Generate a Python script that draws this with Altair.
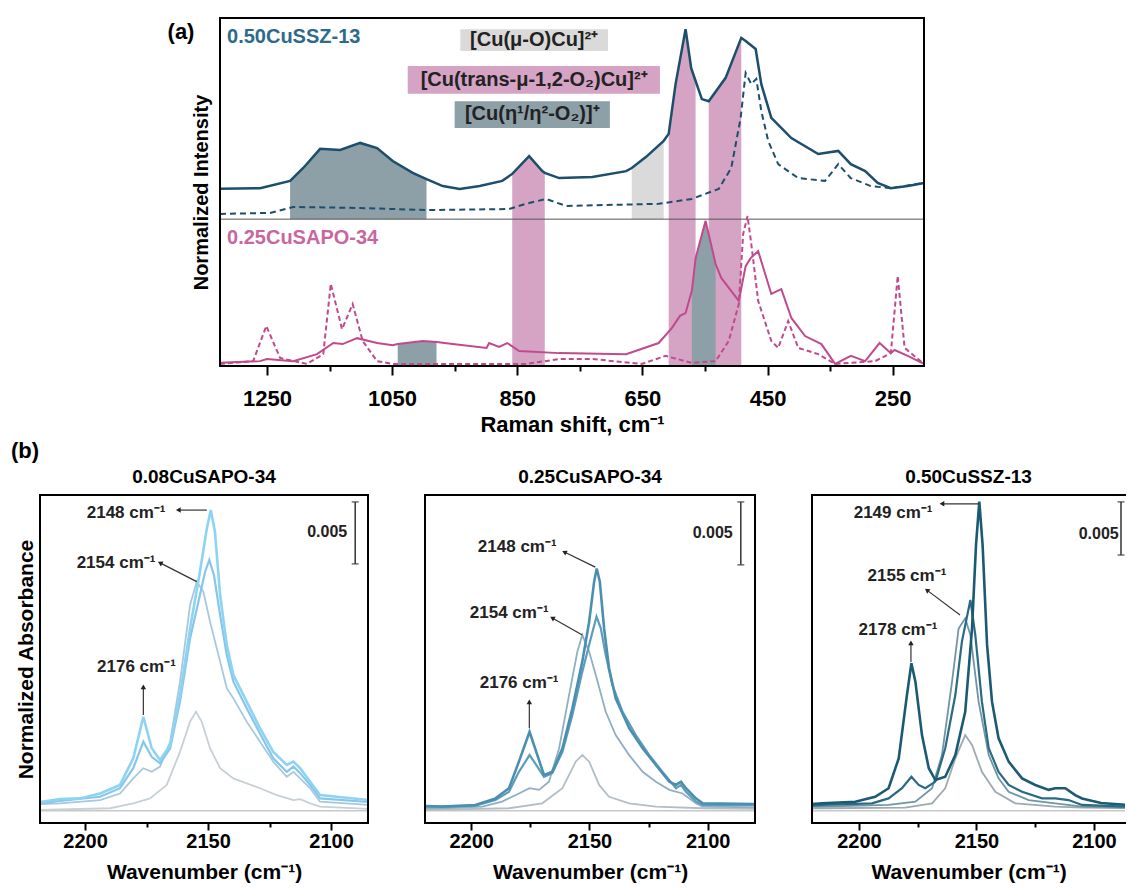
import altair as alt
import pandas as pd

FONT = "Liberation Sans"

# ---------------- Panel (a): Raman spectra ----------------
ssz_solid_x = [1325, 1261, 1213, 1192, 1165, 1133, 1101, 1074, 1049, 1017, 995, 969, 942, 910, 874, 858, 831, 810, 806, 783,
               730, 676, 667, 644, 616, 608, 597, 581, 572, 565, 555, 544, 517, 492, 485, 469, 460, 444, 412, 369,
               337, 317, 294, 274, 253, 226, 200]
ssz_solid_y = [50.9, 51.1, 53.2, 56.9, 62.4, 62.1, 64.1, 62.6, 58.9, 55.5, 53.7, 51.7, 50.9, 51.7, 53.2, 55.2, 60.3, 56.0, 55.5, 54.0,
               54.3, 56.0, 56.9, 60.1, 64.7, 66.7, 81.0, 96.8, 85.6, 81.9, 76.7, 76.1, 82.8, 94.3, 93.4, 91.1, 81.0, 71.3, 65.5, 60.9,
               61.8, 58.0, 56.0, 52.6, 51.1, 51.7, 52.6]

ssz_dash_x = [1325, 1245, 1208, 1101, 995, 863, 836, 804, 772, 624, 571, 528, 508, 493, 485, 476, 468, 460, 449, 433,
              401, 358, 337, 317, 285, 253, 200]
ssz_dash_y = [43.7, 44.0, 45.7, 45.4, 44.8, 45.1, 46.6, 48.0, 46.0, 46.6, 48.0, 50.9, 56.9, 71.3, 84.2, 81.0, 82.5, 73.3, 64.7, 58.0,
              54.0, 53.2, 58.0, 54.0, 51.7, 51.1, 52.6]

sapo_solid_x = [1325, 1261, 1250, 1208, 1170, 1144, 1129, 1106, 1074, 1049, 1041, 1001, 979, 953, 899, 895, 879, 866, 847, 783,
                676, 624, 603, 590, 581, 571, 565, 549, 533, 524, 496, 485, 477, 465, 444, 428, 412, 390, 364, 342,
                317, 294, 271, 253, 247, 226, 200]
sapo_solid_y = [0.9, 1.4, 2.0, 1.4, 3.4, 6.6, 6.3, 8.0, 6.6, 6.0, 6.3, 7.2, 6.9, 6.3, 5.2, 6.6, 5.5, 6.6, 4.3, 3.7,
                3.4, 6.6, 10.9, 14.4, 15.2, 21.6, 31.0, 41.7, 29.3, 25.3, 18.7, 28.7, 31.0, 33.0, 20.7, 22.1, 13.8, 8.6, 6.3, 0.6,
                2.9, 1.4, 6.6, 3.7, 4.6, 2.9, 0.6]

sapo_dash_x = [1325, 1272, 1251, 1229, 1186, 1160, 1148, 1130, 1113, 1097, 1074, 1049, 836, 783, 730, 651, 613, 571, 533, 512,
               496, 489, 482, 476, 465, 444, 433, 417, 401, 369, 342, 278, 253, 242, 231, 200]
sapo_dash_y = [0.6, 1.4, 11.5, 2.3, 0.6, 3.4, 23.6, 10.6, 17.8, 7.2, 1.4, 0.6, 0.6, 2.0, 2.0, 0.6, 2.9, 0.9, 1.4, 7.2,
               17.8, 37.9, 43.1, 35.1, 18.7, 7.2, 5.2, 12.9, 5.2, 3.4, 0.6, 1.4, 3.7, 25.9, 5.2, 0.6]

SEP_Y = 42.2
pink_bands = [(858, 806), (608, 565), (544, 492)]      # under 0.50CuSSZ-13 curve, down to axis
light_bands = [(667, 616)]                             # under 0.50CuSSZ-13 curve, down to separator
dark_top_bands = [(1213, 995)]                         # under 0.50CuSSZ-13 curve, down to separator
dark_bottom_bands = [(1041, 979), (571, 533)]          # under 0.25CuSAPO-34 curve, down to axis

legend_labels = ["[Cu(μ-O)Cu]²⁺", "[Cu(trans-μ-1,2-O₂)Cu]²⁺", "[Cu(η¹/η²-O₂)]⁺"]
legend_fill = ["#dadada", "#d5a3c4", "#8d9fa7"]
legend_x1 = [941, 1025, 950]
legend_x2 = [705, 622, 702]
legend_y1 = [90.5, 78.2, 68.4]
legend_y2 = [96.8, 86.2, 76.1]
legend_tx = [823, 823, 826]
legend_ty = [93.7, 82.2, 72.3]

top_ticks = [1250, 1150, 1050, 950, 850, 750, 650, 550, 450, 350, 250]

PINK = "#d5a3c4"
LIGHT = "#dadada"
DARK = "#8d9fa7"
SSZ_C = "#1d4e6b"
SAPO_C = "#c04a8c"

# ---------------- Panel (b): IR spectra ----------------
ir_ticks = [2200, 2175, 2150, 2125, 2100]

p1_A_x = [2218.3, 2210.2, 2202.0, 2193.9, 2185.8, 2180.4, 2176.3, 2172.9, 2169.5, 2165.4, 2161.4, 2157.3, 2153.3, 2150.5,
          2148.9, 2147.2, 2145.1, 2142.4, 2139.7, 2134.3, 2128.9, 2123.5, 2118.0, 2115.3, 2112.6, 2108.5, 2104.5, 2085]
p1_A_y = [6.4, 7.3, 7.5, 9.0, 11.6, 19.7, 32.4, 22.8, 19.2, 23.8, 39.0, 59.4, 76.6, 89.8,
          95.4, 88.8, 69.5, 54.3, 45.1, 37.0, 28.9, 21.7, 17.7, 18.7, 16.7, 12.6, 8.5, 7.0]
p1_B_x = [2218.3, 2210.2, 2193.9, 2185.8, 2180.4, 2176.3, 2172.9, 2169.5, 2165.4, 2161.4, 2157.3, 2153.3, 2151.2, 2149.5,
          2147.6, 2145.1, 2142.4, 2139.7, 2134.3, 2128.9, 2123.5, 2118.0, 2115.3, 2112.6, 2108.5, 2104.5, 2085]
p1_B_y = [6.0, 6.7, 8.0, 10.6, 16.7, 24.8, 20.2, 18.2, 22.8, 37.0, 56.3, 69.5, 76.6, 80.2,
          75.6, 63.4, 51.2, 43.1, 35.0, 27.3, 19.7, 15.6, 17.2, 15.2, 11.6, 7.5, 6.4]
p1_C_x = [2218.3, 2210.2, 2193.9, 2185.8, 2180.4, 2176.3, 2172.9, 2169.5, 2165.4, 2161.4, 2157.3, 2154.6, 2151.9, 2149.2,
          2145.1, 2142.4, 2139.7, 2134.3, 2128.9, 2123.5, 2118.0, 2115.3, 2112.6, 2108.5, 2104.5, 2085]
p1_C_y = [5.8, 6.0, 7.0, 9.0, 13.6, 16.7, 15.6, 17.2, 24.8, 43.1, 66.5, 73.6, 70.5, 61.4,
          49.2, 41.1, 38.0, 30.9, 24.8, 18.7, 14.1, 15.6, 13.6, 10.6, 6.5, 5.5]
p1_D_x = [2218.3, 2189.8, 2180.4, 2173.6, 2166.8, 2161.4, 2157.3, 2154.9, 2152.6, 2149.2,
          2145.1, 2139.7, 2134.3, 2128.9, 2122.1, 2115.3, 2112.6, 2108.5, 2104.5, 2085]
p1_D_y = [4.0, 4.5, 6.0, 7.5, 11.6, 21.7, 30.9, 33.9, 30.9, 22.8,
          16.7, 13.6, 12.1, 10.6, 8.5, 7.0, 7.3, 6.0, 5.0, 4.3]
p1_E_x = [2218.3, 2085]
p1_E_y = [3.7, 3.7]

p2_A_x = [2219.5, 2212.3, 2198.2, 2189.7, 2184.0, 2179.8, 2175.3, 2172.0, 2169.2, 2165.7, 2161.4, 2157.2, 2153.0, 2150.1, 2148.0,
          2146.9, 2145.6, 2143.8, 2141.7, 2138.9, 2133.2, 2127.5, 2121.9, 2116.2, 2113.4, 2111.3, 2109.2, 2105.0, 2102.1, 2080]
p2_A_y = [5.2, 5.0, 5.5, 7.5, 10.6, 18.7, 27.8, 20.7, 14.6, 15.6, 22.8, 35.0, 49.2, 61.4, 73.6,
          77.6, 73.6, 59.4, 47.2, 38.0, 28.9, 22.8, 17.7, 12.6, 11.6, 12.6, 10.6, 7.5, 6.0, 5.8]
p2_B_x = [2219.5, 2212.3, 2198.2, 2189.7, 2184.0, 2179.8, 2175.3, 2172.0, 2169.2, 2165.7, 2161.4, 2157.2, 2153.0, 2149.4,
          2147.0, 2145.2, 2143.1, 2140.3, 2136.0, 2130.4, 2124.7, 2119.1, 2113.4, 2111.3, 2109.2, 2105.0, 2102.1, 2080]
p2_B_y = [5.0, 5.0, 5.3, 7.0, 9.5, 15.6, 20.7, 17.2, 14.1, 15.2, 21.7, 32.9, 46.1, 56.3,
          62.9, 59.4, 51.2, 42.1, 33.9, 26.8, 20.7, 15.6, 10.6, 11.6, 9.5, 6.5, 5.5, 5.5]
p2_C_x = [2219.5, 2212.3, 2195.3, 2186.9, 2179.8, 2175.3, 2171.3, 2167.1, 2162.8, 2158.6, 2155.1, 2153.0,
          2150.1, 2147.3, 2143.1, 2138.9, 2133.2, 2127.5, 2121.9, 2116.2, 2110.6, 2105.0, 2102.1, 2080]
p2_C_y = [4.5, 4.5, 5.0, 6.5, 9.0, 10.6, 10.1, 12.6, 22.8, 39.0, 52.2, 57.3,
          52.2, 45.1, 33.9, 26.8, 20.7, 15.6, 12.6, 10.1, 9.0, 6.0, 5.0, 4.8]
p2_D_x = [2219.5, 2184.0, 2169.9, 2161.4, 2155.8, 2153.0, 2150.1, 2145.9, 2141.7, 2133.2, 2121.9, 2102.1, 2080]
p2_D_y = [4.0, 4.5, 6.0, 10.6, 18.7, 20.7, 18.7, 11.6, 8.0, 6.0, 5.0, 4.5, 4.3]
p2_E_x = [2219.5, 2080]
p2_E_y = [3.7, 3.7]

p3_A_x = [2220, 2215.7, 2201.6, 2193.1, 2187.4, 2183.1, 2179.6, 2177.7, 2176.0, 2173.2, 2170.3, 2167.5, 2163.3, 2159.0, 2154.8,
          2151.9, 2150.2, 2148.8, 2147.4, 2145.5, 2143.4, 2140.6, 2136.3, 2130.6, 2125.0, 2119.3, 2116.5, 2112.2, 2108.0, 2105.1,
          2097, 2086]
p3_A_y = [5.8, 6.0, 6.5, 8.0, 10.6, 19.7, 39.0, 48.7, 43.1, 26.8, 16.7, 13.1, 14.1, 20.7, 33.9,
          59.3, 84.8, 98.0, 84.8, 54.3, 37.0, 25.8, 18.7, 13.6, 11.6, 10.1, 10.6, 10.6, 8.5, 7.5,
          6.1, 5.5]
p3_B_x = [2220, 2215.7, 2194.5, 2187.4, 2181.7, 2177.7, 2174.6, 2171.8, 2167.5, 2163.3, 2159.0, 2156.2,
          2152.6, 2150.5, 2147.7, 2144.8, 2140.6, 2136.3, 2130.6, 2122.1, 2116.5, 2110.8, 2105.1, 2086]
p3_B_y = [5.3, 5.5, 6.0, 7.5, 10.6, 14.1, 11.6, 10.6, 12.6, 22.8, 39.0, 55.3,
          68.0, 57.3, 37.0, 22.8, 15.6, 11.6, 9.5, 7.5, 7.5, 7.0, 5.5, 5.0]
p3_C_x = [2220, 2215.7, 2187.4, 2176.0, 2168.9, 2164.7, 2160.4, 2157.6, 2154.8, 2152.6, 2149.1, 2144.8,
          2140.6, 2136.3, 2127.8, 2116.5, 2105.1, 2086]
p3_C_y = [5.0, 5.0, 5.5, 6.5, 10.6, 20.7, 43.1, 59.3, 62.4, 57.3, 37.0, 20.7,
          13.6, 9.5, 7.0, 6.0, 5.0, 4.7]
p3_D_x = [2220, 2215.7, 2180.3, 2168.9, 2163.3, 2159.0, 2154.8, 2151.9, 2147.7, 2142.0, 2133.5, 2116.5, 2105.1, 2086]
p3_D_y = [4.5, 4.5, 4.7, 6.0, 10.6, 19.7, 26.8, 23.8, 15.6, 9.5, 6.0, 5.0, 4.7, 4.5]
p3_E_x = [2220, 2086]
p3_E_y = [3.7, 3.7]

# annotations: labels, label positions, arrow tail -> head, arrowhead angle
p1_labels = ["2148 cm⁻¹", "2154 cm⁻¹", "2176 cm⁻¹"]
p1_lx = [2183.3, 2187.4, 2179.1]
p1_ly = [94.5, 79.3, 47.6]
p1_ax1 = [2150.5, 2154.6, 2176.3]
p1_ay1 = [95.4, 73.6, 32.9]
p1_ax2 = [2162.1, 2169.5, 2176.3]
p1_ay2 = [95.4, 79.3, 41.5]
p1_ang = [270, 298, 0]

p2_labels = ["2148 cm⁻¹", "2154 cm⁻¹", "2176 cm⁻¹"]
p2_lx = [2180.5, 2183.9, 2179.7]
p2_ly = [84.1, 64.0, 42.7]
p2_ax1 = [2147.5, 2153.0, 2175.4]
p2_ay1 = [78.0, 57.3, 29.0]
p2_ax2 = [2160.6, 2165.7, 2175.4]
p2_ay2 = [82.6, 62.5, 36.9]
p2_ang = [296, 300, 0]

p3_labels = ["2149 cm⁻¹", "2155 cm⁻¹", "2178 cm⁻¹"]
p3_lx = [2185.5, 2179.6, 2183.4]
p3_ly = [94.5, 75.3, 58.8]
p3_ax1 = [2148.9, 2157.0, 2177.9]
p3_ay1 = [97.3, 63.4, 49.1]
p3_ax2 = [2164.7, 2171.1, 2177.9]
p3_ay2 = [97.3, 71.0, 54.9]
p3_ang = [270, 307, 0]

# scale bars (0.005): x, y-bottom, y-top, label x, label y
p1_bar = [2090.2, 79.0, 97.9, 2101.6, 88.7]
p2_bar = [2086.0, 78.7, 97.9, 2097.9, 88.4]
p3_bar = [2088.5, 81.7, 97.9, 2098.0, 88.1]

p1_colors = ["#c8c8c8", "#c6d0d6", "#a6c8de", "#86c6ea", "#8dd3f4"]
p2_colors = ["#c8c8c8", "#b2bec6", "#8fafc3", "#5d9cbc", "#4a8fb0"]
p3_colors = ["#c8c8c8", "#9cabb2", "#6f95a6", "#2b6a83", "#1b5a73"]

# ======================================================================
TOP_OFF = 180      # horizontal offset of panel (a) plot area relative to first panel of (b)
TOP_W = 704
TOP_H = 348


def xy(x, y):
    return pd.DataFrame({"x": x, "y": y})


def bands(curve, ranges, base):
    parts = []
    for i, (hi, lo) in enumerate(ranges):
        sub = curve[(curve["x"] <= hi) & (curve["x"] >= lo)].copy()
        sub["band"] = i
        sub["base"] = base
        parts.append(sub)
    return pd.concat(parts, ignore_index=True)


def frame_df(x0, x1, y0, y1, right=True):
    rows = [(x0, x1, y0, y0), (x0, x1, y1, y1), (x0, x0, y0, y1)]
    if right:
        rows.append((x1, x1, y0, y1))
    return pd.DataFrame(rows, columns=["fx1", "fx2", "fy1", "fy2"])


ssz_solid = xy(ssz_solid_x, ssz_solid_y)
ssz_dash = xy(ssz_dash_x, ssz_dash_y)
sapo_solid = xy(sapo_solid_x, sapo_solid_y)
sapo_dash = xy(sapo_dash_x, sapo_dash_y)

top_xscale = alt.Scale(domain=[1325, 200], range=[TOP_OFF, TOP_OFF + TOP_W], nice=False, zero=False)
top_yscale = alt.Scale(domain=[0, 100], nice=False, zero=False)
top_xaxis = alt.Axis(
    orient="bottom", values=top_ticks, format="d",
    labelExpr="datum.value % 200 == 50 ? datum.label : ''",
    tickSize={"condition": {"test": "datum.value % 200 == 50", "value": 9}, "value": 5},
    tickWidth=2, tickColor="black", domain=False, grid=False,
    labelFontSize=22, labelFontWeight="bold", labelColor="black", labelPadding=13,
    title="Raman shift, cm⁻¹", titleFontSize=22, titleFontWeight="bold", titleColor="black", titlePadding=5,
)
top_yaxis = alt.Axis(orient="left", offset=-TOP_OFF, ticks=False, labels=False, grid=False, domain=False,
                     title="Normalized Intensity", titleFontSize=20, titleFontWeight="bold",
                     titleColor="black", titlePadding=9, minExtent=0)


def TX(field="x", axis=None):
    return alt.X(f"{field}:Q", scale=top_xscale, axis=axis)


def TY(field="y", axis=None):
    return alt.Y(f"{field}:Q", scale=top_yscale, axis=axis)


pink_df = bands(ssz_solid, pink_bands, 0)
light_df = bands(ssz_solid, light_bands, SEP_Y)
darktop_df = bands(ssz_solid, dark_top_bands, SEP_Y)
darkbot_df = bands(sapo_solid, dark_bottom_bands, 0)

area_layers = []
for dfb, col in [(pink_df, PINK), (light_df, LIGHT), (darktop_df, DARK), (darkbot_df, DARK)]:
    area_layers.append(
        alt.Chart(dfb).mark_area(color=col, opacity=1, interpolate="linear").encode(
            x=TX(), y=TY(), y2="base:Q", detail="band:N")
    )

sep = alt.Chart(pd.DataFrame({"x1": [1325], "x2": [200], "y": [SEP_Y]})).mark_rule(
    color="#555555", strokeWidth=1).encode(x=TX("x1"), x2="x2:Q", y=TY())

line_layers = [
    alt.Chart(ssz_dash).mark_line(color=SSZ_C, strokeWidth=2, strokeDash=[6, 4]).encode(x=TX(), y=TY()),
    alt.Chart(ssz_solid).mark_line(color=SSZ_C, strokeWidth=2.5).encode(
        x=TX(axis=top_xaxis), y=TY(axis=top_yaxis)),
    alt.Chart(sapo_dash).mark_line(color=SAPO_C, strokeWidth=2, strokeDash=[5, 3]).encode(x=TX(), y=TY()),
    alt.Chart(sapo_solid).mark_line(color=SAPO_C, strokeWidth=2).encode(x=TX(), y=TY()),
]

top_frame = alt.Chart(frame_df(1325, 200, 0, 100)).mark_rule(
    color="black", strokeWidth=2, strokeCap="square").encode(
    x=TX("fx1"), x2="fx2:Q", y=TY("fy1"), y2="fy2:Q")

legend_df = pd.DataFrame({"label": legend_labels, "fill": legend_fill, "x1": legend_x1, "x2": legend_x2,
                          "y1": legend_y1, "y2": legend_y2, "tx": legend_tx, "ty": legend_ty})
legend_rects = alt.Chart(legend_df).mark_rect().encode(
    x=TX("x1"), x2="x2:Q", y=TY("y1"), y2="y2:Q", color=alt.Color("fill:N", scale=None))
legend_texts = alt.Chart(legend_df).mark_text(fontSize=20, fontWeight="bold", color="#222222",
                                              align="center", baseline="middle").encode(
    x=TX("tx"), y=TY("ty"), text="label:N")

series_lbl = pd.DataFrame({"t": ["0.50CuSSZ-13", "0.25CuSAPO-34"], "x": [1313.8, 1313.8], "y": [94.5, 36.8],
                           "c": ["#2d6b8b", "#c8679f"]})
series_text = alt.Chart(series_lbl).mark_text(fontSize=20, fontWeight="bold", align="left", baseline="middle").encode(
    x=TX(), y=TY(), text="t:N", color=alt.Color("c:N", scale=None))

# panel tags: "(a)" beside the Raman frame, "(b)" above the first IR panel
tags = alt.Chart(pd.DataFrame({"t": ["(a)", "(b)"], "px": [TOP_OFF - 39, -15], "py": [14, 433]})).mark_text(
    fontSize=22, fontWeight="bold", color="black", align="center", baseline="middle").encode(
    text="t:N", x=alt.X("px:Q", scale=None, axis=None), y=alt.Y("py:Q", scale=None, axis=None))

top = alt.layer(*area_layers, sep, *line_layers, top_frame, legend_rects, legend_texts, series_text, tags).properties(
    width=TOP_OFF + TOP_W, height=TOP_H).resolve_axis(x="independent", y="independent")


def ir_panel(series, colors, domain, width, title, labels, lx, ly, ax1, ay1, ax2, ay2, ang, bar,
             ytitle=None, right_frame=True):
    xscale = alt.Scale(domain=domain, nice=False, zero=False)
    yscale = alt.Scale(domain=[0, 100], nice=False, zero=False)
    xaxis = alt.Axis(
        orient="bottom", values=ir_ticks, format="d",
        labelExpr="datum.value % 50 == 0 ? datum.label : ''",
        tickSize={"condition": {"test": "datum.value % 50 == 0", "value": 7}, "value": 4},
        tickWidth=2, tickColor="black", domain=False, grid=False,
        labelFontSize=20, labelFontWeight="bold", labelColor="black", labelPadding=1,
        title="Wavenumber (cm⁻¹)", titleFontSize=21, titleFontWeight="bold", titleColor="black", titlePadding=10)
    if ytitle:
        yaxis = alt.Axis(orient="left", ticks=False, labels=False, grid=False, domain=False, title=ytitle,
                         titleFontSize=21, titleFontWeight="bold", titleColor="black", titlePadding=4, minExtent=0)
    else:
        yaxis = None

    def X(f="x", axis=None):
        return alt.X(f"{f}:Q", scale=xscale, axis=axis)

    def Y(f="y", axis=None):
        return alt.Y(f"{f}:Q", scale=yscale, axis=axis)

    layers = []
    widths = [1.5, 1.8, 1.8, 2.2, 2.6]
    for k, ((sx, sy), col, w) in enumerate(zip(series, colors, widths)):
        if k == 0:
            enc = dict(x=X(axis=xaxis), y=Y(axis=yaxis))
        else:
            enc = dict(x=X(), y=Y())
        layers.append(alt.Chart(xy(sx, sy)).mark_line(color=col, strokeWidth=w, clip=True).encode(**enc))

    layers.append(alt.Chart(frame_df(domain[0], domain[1], 0, 100, right=right_frame)).mark_rule(
        color="black", strokeWidth=2, strokeCap="square").encode(
        x=X("fx1"), x2="fx2:Q", y=Y("fy1"), y2="fy2:Q"))

    ann = pd.DataFrame({"t": labels, "lx": lx, "ly": ly, "x1": ax1, "y1": ay1, "x2": ax2, "y2": ay2, "ang": ang})
    layers.append(alt.Chart(ann).mark_rule(color="#333333", strokeWidth=1.2).encode(
        x=X("x1"), y=Y("y1"), x2="x2:Q", y2="y2:Q"))
    layers.append(alt.Chart(ann).mark_point(shape="triangle-up", filled=True, size=30, color="#222222",
                                            opacity=1).encode(
        x=X("x2"), y=Y("y2"), angle=alt.Angle("ang:Q", scale=None)))
    layers.append(alt.Chart(ann).mark_text(fontSize=17, fontWeight="bold", color="#222222",
                                           align="center", baseline="middle").encode(
        x=X("lx"), y=Y("ly"), text="t:N"))

    bar_df = pd.DataFrame({"x": [bar[0]], "y1": [bar[1]], "y2": [bar[2]], "lx": [bar[3]], "ly": [bar[4]],
                           "t": ["0.005"]})
    ends = pd.DataFrame({"x": [bar[0], bar[0]], "y": [bar[1], bar[2]]})
    layers.append(alt.Chart(bar_df).mark_rule(color="#333333", strokeWidth=1.5).encode(
        x=X(), y=Y("y1"), y2="y2:Q"))
    layers.append(alt.Chart(ends).mark_tick(orient="horizontal", size=7, thickness=1.5, color="#333333").encode(
        x=X(), y=Y()))
    layers.append(alt.Chart(bar_df).mark_text(fontSize=16, fontWeight="bold", color="#222222",
                                              align="center", baseline="middle").encode(
        x=X("lx"), y=Y("ly"), text="t:N"))

    return alt.layer(*layers).properties(
        width=width, height=328,
        title=alt.TitleParams(title, fontSize=19, fontWeight="bold", color="black", offset=7,
                              anchor="middle", frame="group"),
    ).resolve_axis(x="independent", y="independent")


p1 = ir_panel([(p1_E_x, p1_E_y), (p1_D_x, p1_D_y), (p1_C_x, p1_C_y), (p1_B_x, p1_B_y), (p1_A_x, p1_A_y)],
              p1_colors, [2218.3, 2085], 328, "0.08CuSAPO-34",
              p1_labels, p1_lx, p1_ly, p1_ax1, p1_ay1, p1_ax2, p1_ay2, p1_ang, p1_bar,
              ytitle="Normalized Absorbance")
p2 = ir_panel([(p2_E_x, p2_E_y), (p2_D_x, p2_D_y), (p2_C_x, p2_C_y), (p2_B_x, p2_B_y), (p2_A_x, p2_A_y)],
              p2_colors, [2219.5, 2080], 330, "0.25CuSAPO-34",
              p2_labels, p2_lx, p2_ly, p2_ax1, p2_ay1, p2_ax2, p2_ay2, p2_ang, p2_bar)
p3 = ir_panel([(p3_E_x, p3_E_y), (p3_D_x, p3_D_y), (p3_C_x, p3_C_y), (p3_B_x, p3_B_y), (p3_A_x, p3_A_y)],
              p3_colors, [2220, 2086.8], 313, "0.50CuSSZ-13",
              p3_labels, p3_lx, p3_ly, p3_ax1, p3_ay1, p3_ax2, p3_ay2, p3_ang, p3_bar, right_frame=False)

bottom = alt.hconcat(p1, p2, p3, spacing=53)

chart = alt.vconcat(top, bottom, spacing=4).properties(
    padding={"left": 10, "top": 16, "right": 0, "bottom": 0},
).configure(font=FONT).configure_view(stroke="transparent")

chart.save("out.html", embed_options={"renderer": "svg", "actions": False})
